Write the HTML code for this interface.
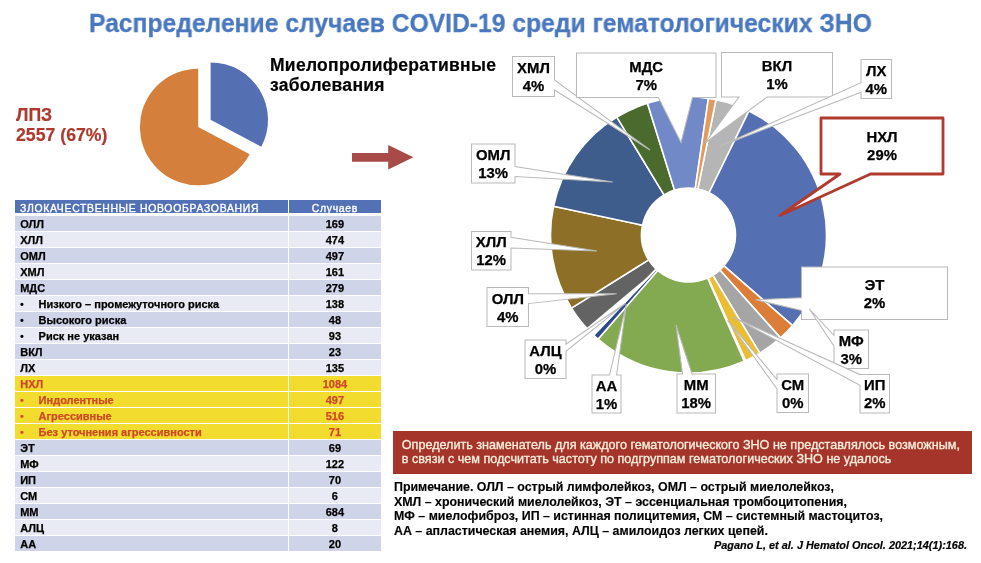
<!DOCTYPE html>
<html><head><meta charset="utf-8"><style>
*{margin:0;padding:0;box-sizing:border-box}
html,body{width:981px;height:563px;overflow:hidden;background:#fff}
body>*{will-change:transform}
body{position:relative;font-family:"Liberation Sans","Noto Sans CJK SC",sans-serif}
.abs{position:absolute;white-space:nowrap}
.title{left:89px;top:7px;font-size:25.5px;font-weight:bold;color:#4A78BE;line-height:32px;transform:scaleX(0.967);transform-origin:0 0;-webkit-text-stroke:0.3px #4A78BE}
.lpz{left:15.5px;top:104.6px;font-size:17.7px;font-weight:bold;color:#AD3A2D;line-height:20.2px;-webkit-text-stroke:0.2px #AD3A2D}
.mpz{left:269.5px;top:55px;font-size:17.5px;font-weight:bold;color:#000;line-height:20.1px;letter-spacing:0.28px;-webkit-text-stroke:0.2px #000}
svg{position:absolute;left:0;top:0}
.cl{font-family:"Liberation Sans",sans-serif;font-size:14.9px;font-weight:bold;fill:#000;stroke:#000;stroke-width:0.25px}
.th{position:absolute;background:#5371B5;color:#fff;overflow:hidden}
.td{position:absolute}
.htxt{position:absolute;top:2.8px;font-size:10.4px;line-height:12px;letter-spacing:0.72px;white-space:nowrap;-webkit-text-stroke:0.35px #fff}
.tx{position:absolute;top:1.5px;font-size:11px;font-weight:bold;line-height:13px;white-space:nowrap;-webkit-text-stroke:0.25px currentColor}
.bul{position:absolute;left:5px;top:1.5px;font-size:11px;font-weight:bold;line-height:13px}
.banner{left:393px;top:430.8px;width:579px;height:42.8px;background:#A5352A;color:#F6EEDC;font-size:12.6px;line-height:13.8px;padding:8.4px 0 0 8.8px;-webkit-text-stroke:0.35px #F6EEDC}
.notes{left:394.2px;top:479.5px;font-size:12.4px;font-weight:bold;line-height:14.6px;color:#000;-webkit-text-stroke:0.15px #000}
.cite{left:713.9px;top:539px;font-size:10.9px;font-weight:bold;font-style:italic;color:#000;line-height:12px;-webkit-text-stroke:0.2px #000}
</style></head><body>
<div class="abs title">Распределение случаев COVID-19 среди гематологических ЗНО</div>
<div class="abs lpz">ЛПЗ<br>2557 (67%)</div>
<div class="abs mpz">Миелопролиферативные<br>заболевания</div>
<svg width="981" height="563" viewBox="0 0 981 563">
<path d="M716.01,99.77 A138.0,138.0 0 0 1 749.00,110.97 L709.10,192.76 A47.0,47.0 0 0 0 697.87,188.94 Z" fill="#B5B5B5" stroke="#fff" stroke-width="1.6" stroke-linejoin="round"/>
<path d="M749.00,110.97 A138.0,138.0 0 0 1 792.65,325.54 L723.97,265.83 A47.0,47.0 0 0 0 709.10,192.76 Z" fill="#5470B3" stroke="#fff" stroke-width="1.6" stroke-linejoin="round"/>
<path d="M792.65,325.54 A138.0,138.0 0 0 1 780.48,337.88 L719.83,270.04 A47.0,47.0 0 0 0 723.97,265.83 Z" fill="#DC7E38" stroke="#fff" stroke-width="1.6" stroke-linejoin="round"/>
<path d="M780.48,337.88 A138.0,138.0 0 0 1 759.78,353.16 L712.78,275.24 A47.0,47.0 0 0 0 719.83,270.04 Z" fill="#A5A5A5" stroke="#fff" stroke-width="1.6" stroke-linejoin="round"/>
<path d="M759.78,353.16 A138.0,138.0 0 0 1 745.51,360.67 L707.92,277.80 A47.0,47.0 0 0 0 712.78,275.24 Z" fill="#EBBD35" stroke="#fff" stroke-width="1.6" stroke-linejoin="round"/>
<path d="M745.51,360.67 A138.0,138.0 0 0 1 744.19,361.26 L707.47,278.00 A47.0,47.0 0 0 0 707.92,277.80 Z" fill="#5B9BD5" stroke="#fff" stroke-width="1.6" stroke-linejoin="round"/>
<path d="M744.19,361.26 A138.0,138.0 0 0 1 597.96,339.15 L657.67,270.47 A47.0,47.0 0 0 0 707.47,278.00 Z" fill="#83AA50" stroke="#fff" stroke-width="1.6" stroke-linejoin="round"/>
<path d="M597.96,339.15 A138.0,138.0 0 0 1 593.51,335.10 L656.15,269.09 A47.0,47.0 0 0 0 657.67,270.47 Z" fill="#2E4A8A" stroke="#fff" stroke-width="1.6" stroke-linejoin="round"/>
<path d="M593.68,335.27 A138.0,138.0 0 0 1 593.16,334.77 L656.03,268.98 A47.0,47.0 0 0 0 656.21,269.15 Z" fill="#FFFFFF" stroke="#fff" stroke-width="1.6" stroke-linejoin="round"/>
<path d="M593.16,334.77 A138.0,138.0 0 0 1 571.47,308.13 L648.64,259.91 A47.0,47.0 0 0 0 656.03,268.98 Z" fill="#636363" stroke="#fff" stroke-width="1.6" stroke-linejoin="round"/>
<path d="M571.47,308.13 A138.0,138.0 0 0 1 553.52,206.31 L642.53,225.23 A47.0,47.0 0 0 0 648.64,259.91 Z" fill="#8D6F27" stroke="#fff" stroke-width="1.6" stroke-linejoin="round"/>
<path d="M553.52,206.31 A138.0,138.0 0 0 1 616.81,117.08 L664.08,194.84 A47.0,47.0 0 0 0 642.53,225.23 Z" fill="#3E5C8C" stroke="#fff" stroke-width="1.6" stroke-linejoin="round"/>
<path d="M616.81,117.08 A138.0,138.0 0 0 1 647.46,103.24 L674.52,190.13 A47.0,47.0 0 0 0 664.08,194.84 Z" fill="#4B6A2D" stroke="#fff" stroke-width="1.6" stroke-linejoin="round"/>
<path d="M647.46,103.24 A138.0,138.0 0 0 1 708.42,98.45 L695.28,188.49 A47.0,47.0 0 0 0 674.52,190.13 Z" fill="#7289C8" stroke="#fff" stroke-width="1.6" stroke-linejoin="round"/>
<path d="M708.42,98.45 A138.0,138.0 0 0 1 716.01,99.77 L697.87,188.94 A47.0,47.0 0 0 0 695.28,188.49 Z" fill="#E29A5E" stroke="#fff" stroke-width="1.6" stroke-linejoin="round"/>
<path d="M591.44,337.28 L584.38,330.08 L650,275 Z" fill="#fff"/>
<path d="M512.5,56.5 L554.5,56.5 L554.5,80.0 L650.0,150.0 L554.5,90.0 L554.5,96.5 L512.5,96.5 Z" fill="#fff" stroke="#BABABA" stroke-width="1.05"/>
<text x="533.5" y="73.0" text-anchor="middle" class="cl">ХМЛ</text>
<text x="533.5" y="91.0" text-anchor="middle" class="cl">4%</text>
<path d="M576.5,53.0 L716.0,53.0 L716.0,97.5 L692.5,97.5 L681.0,142.5 L658.4,97.5 L576.5,97.5 Z" fill="#fff" stroke="#BABABA" stroke-width="1.05"/>
<text x="646.2" y="71.8" text-anchor="middle" class="cl">МДС</text>
<text x="646.2" y="89.8" text-anchor="middle" class="cl">7%</text>
<path d="M721.5,52.5 L832.5,52.5 L832.5,97.0 L767.0,97.0 L705.0,143.0 L739.0,97.0 L721.5,97.0 Z" fill="#fff" stroke="#BABABA" stroke-width="1.05"/>
<text x="777.0" y="71.2" text-anchor="middle" class="cl">ВКЛ</text>
<text x="777.0" y="89.2" text-anchor="middle" class="cl">1%</text>
<path d="M861.0,59.5 L891.5,59.5 L891.5,98.5 L861.0,98.5 L861.0,92.3 L718.0,147.0 L861.0,82.7 Z" fill="#fff" stroke="#BABABA" stroke-width="1.05"/>
<text x="876.2" y="75.5" text-anchor="middle" class="cl">ЛХ</text>
<text x="876.2" y="93.5" text-anchor="middle" class="cl">4%</text>
<path d="M801.5,267.0 L947.5,267.0 L947.5,319.5 L801.5,319.5 L801.5,310.5 L755.6,299.8 L801.5,297.7 Z" fill="#fff" stroke="#BABABA" stroke-width="1.05"/>
<text x="874.5" y="289.8" text-anchor="middle" class="cl">ЭТ</text>
<text x="874.5" y="307.8" text-anchor="middle" class="cl">2%</text>
<path d="M834.0,330.0 L868.5,330.0 L868.5,368.5 L834.0,368.5 L834.0,346.2 L809.2,308.8 L834.0,335.5 Z" fill="#fff" stroke="#BABABA" stroke-width="1.05"/>
<text x="851.2" y="345.8" text-anchor="middle" class="cl">МФ</text>
<text x="851.2" y="363.8" text-anchor="middle" class="cl">3%</text>
<path d="M860.0,374.5 L889.5,374.5 L889.5,413.0 L860.0,413.0 L860.0,385.2 L732.8,317.0 L860.0,374.6 Z" fill="#fff" stroke="#BABABA" stroke-width="1.05"/>
<text x="874.8" y="390.2" text-anchor="middle" class="cl">ИП</text>
<text x="874.8" y="408.2" text-anchor="middle" class="cl">2%</text>
<path d="M777.0,374.0 L808.5,374.0 L808.5,412.5 L777.0,412.5 L777.0,389.0 L727.5,320.2 L777.0,379.6 Z" fill="#fff" stroke="#BABABA" stroke-width="1.05"/>
<text x="792.8" y="389.8" text-anchor="middle" class="cl">СМ</text>
<text x="792.8" y="407.8" text-anchor="middle" class="cl">0%</text>
<path d="M677.0,374.0 L682.5,374.0 L676.0,325.0 L692.0,374.0 L715.5,374.0 L715.5,413.0 L677.0,413.0 Z" fill="#fff" stroke="#BABABA" stroke-width="1.05"/>
<text x="696.2" y="390.0" text-anchor="middle" class="cl">ММ</text>
<text x="696.2" y="408.0" text-anchor="middle" class="cl">18%</text>
<path d="M592.0,375.0 L609.5,375.0 L626.4,304.2 L616.6,375.0 L621.0,375.0 L621.0,413.0 L592.0,413.0 Z" fill="#fff" stroke="#BABABA" stroke-width="1.05"/>
<text x="606.5" y="390.5" text-anchor="middle" class="cl">АА</text>
<text x="606.5" y="408.5" text-anchor="middle" class="cl">1%</text>
<path d="M525.0,340.0 L566.0,340.0 L566.0,344.2 L625.5,303.3 L566.0,351.3 L566.0,378.5 L525.0,378.5 Z" fill="#fff" stroke="#BABABA" stroke-width="1.05"/>
<text x="545.5" y="355.8" text-anchor="middle" class="cl">АЛЦ</text>
<text x="545.5" y="373.8" text-anchor="middle" class="cl">0%</text>
<path d="M487.0,287.5 L528.5,287.5 L528.5,293.7 L616.8,293.7 L528.5,303.6 L528.5,326.5 L487.0,326.5 Z" fill="#fff" stroke="#BABABA" stroke-width="1.05"/>
<text x="507.8" y="303.5" text-anchor="middle" class="cl">ОЛЛ</text>
<text x="507.8" y="321.5" text-anchor="middle" class="cl">4%</text>
<path d="M471.5,231.5 L511.0,231.5 L511.0,237.3 L597.0,251.1 L511.0,248.1 L511.0,270.0 L471.5,270.0 Z" fill="#fff" stroke="#BABABA" stroke-width="1.05"/>
<text x="491.2" y="247.2" text-anchor="middle" class="cl">ХЛЛ</text>
<text x="491.2" y="265.2" text-anchor="middle" class="cl">12%</text>
<path d="M471.5,144.0 L515.0,144.0 L515.0,166.6 L612.7,181.9 L515.0,176.6 L515.0,183.0 L471.5,183.0 Z" fill="#fff" stroke="#BABABA" stroke-width="1.05"/>
<text x="493.2" y="160.0" text-anchor="middle" class="cl">ОМЛ</text>
<text x="493.2" y="178.0" text-anchor="middle" class="cl">13%</text>
<path d="M821.0,118.0 L943.0,118.0 L943.0,174.0 L870.5,174.0 L780,215.5 L840,174.0 L821.0,174.0 Z" fill="#fff" stroke="#B03A2E" stroke-width="2.8" stroke-linejoin="round"/>
<text x="882" y="142.4" text-anchor="middle" class="cl">НХЛ</text>
<text x="882" y="160.3" text-anchor="middle" class="cl">29%</text>
<path d="M198.20,127.00 L249.68,154.37 A58.3,58.3 0 1 1 198.20,68.70 Z" fill="#D4803C"/>
<path d="M210.60,119.80 L210.60,62.40 A57.4,57.4 0 0 1 261.28,146.75 Z" fill="#5470B3"/>
<path d="M352,153 L388.2,153 L388.2,145.1 L413.4,157.3 L388.2,169.6 L388.2,161.8 L352,161.8 Z" fill="#A84A47"/>
</svg>
<div class="th" style="left:15.3px;top:199.6px;width:272.7px;height:13.2px"><span class="htxt" style="left:5px">ЗЛОКАЧЕСТВЕННЫЕ НОВООБРАЗОВАНИЯ</span></div>
<div class="th" style="left:289.2px;top:199.6px;width:91.8px;height:13.2px"><span class="htxt" style="left:0;right:0;text-align:center">Случаев</span></div>
<div class="td" style="left:15.3px;top:216.3px;width:272.7px;height:14.7px;background:#CFD4E9;color:#000"><span class="tx" style="left:5.2px">ОЛЛ</span></div>
<div class="td" style="left:289.2px;top:216.3px;width:91.8px;height:14.7px;background:#CFD4E9;color:#000"><span class="tx" style="left:0;right:0;text-align:center">169</span></div>
<div class="td" style="left:15.3px;top:232.29px;width:272.7px;height:14.7px;background:#E8EAF4;color:#000"><span class="tx" style="left:5.2px">ХЛЛ</span></div>
<div class="td" style="left:289.2px;top:232.29px;width:91.8px;height:14.7px;background:#E8EAF4;color:#000"><span class="tx" style="left:0;right:0;text-align:center">474</span></div>
<div class="td" style="left:15.3px;top:248.27px;width:272.7px;height:14.7px;background:#CFD4E9;color:#000"><span class="tx" style="left:5.2px">ОМЛ</span></div>
<div class="td" style="left:289.2px;top:248.27px;width:91.8px;height:14.7px;background:#CFD4E9;color:#000"><span class="tx" style="left:0;right:0;text-align:center">497</span></div>
<div class="td" style="left:15.3px;top:264.25px;width:272.7px;height:14.7px;background:#E8EAF4;color:#000"><span class="tx" style="left:5.2px">ХМЛ</span></div>
<div class="td" style="left:289.2px;top:264.25px;width:91.8px;height:14.7px;background:#E8EAF4;color:#000"><span class="tx" style="left:0;right:0;text-align:center">161</span></div>
<div class="td" style="left:15.3px;top:280.24px;width:272.7px;height:14.7px;background:#CFD4E9;color:#000"><span class="tx" style="left:5.2px">МДС</span></div>
<div class="td" style="left:289.2px;top:280.24px;width:91.8px;height:14.7px;background:#CFD4E9;color:#000"><span class="tx" style="left:0;right:0;text-align:center">279</span></div>
<div class="td" style="left:15.3px;top:296.23px;width:272.7px;height:14.7px;background:#E8EAF4;color:#000"><span class="bul">•</span><span class="tx" style="left:23.6px">Низкого – промежуточного риска</span></div>
<div class="td" style="left:289.2px;top:296.23px;width:91.8px;height:14.7px;background:#E8EAF4;color:#000"><span class="tx" style="left:0;right:0;text-align:center">138</span></div>
<div class="td" style="left:15.3px;top:312.21px;width:272.7px;height:14.7px;background:#CFD4E9;color:#000"><span class="bul">•</span><span class="tx" style="left:23.6px">Высокого риска</span></div>
<div class="td" style="left:289.2px;top:312.21px;width:91.8px;height:14.7px;background:#CFD4E9;color:#000"><span class="tx" style="left:0;right:0;text-align:center">48</span></div>
<div class="td" style="left:15.3px;top:328.19px;width:272.7px;height:14.7px;background:#E8EAF4;color:#000"><span class="bul">•</span><span class="tx" style="left:23.6px">Риск не указан</span></div>
<div class="td" style="left:289.2px;top:328.19px;width:91.8px;height:14.7px;background:#E8EAF4;color:#000"><span class="tx" style="left:0;right:0;text-align:center">93</span></div>
<div class="td" style="left:15.3px;top:344.18px;width:272.7px;height:14.7px;background:#CFD4E9;color:#000"><span class="tx" style="left:5.2px">ВКЛ</span></div>
<div class="td" style="left:289.2px;top:344.18px;width:91.8px;height:14.7px;background:#CFD4E9;color:#000"><span class="tx" style="left:0;right:0;text-align:center">23</span></div>
<div class="td" style="left:15.3px;top:360.17px;width:272.7px;height:14.7px;background:#E8EAF4;color:#000"><span class="tx" style="left:5.2px">ЛХ</span></div>
<div class="td" style="left:289.2px;top:360.17px;width:91.8px;height:14.7px;background:#E8EAF4;color:#000"><span class="tx" style="left:0;right:0;text-align:center">135</span></div>
<div class="td" style="left:15.3px;top:376.15px;width:272.7px;height:14.7px;background:#F2DC2D;color:#CE482B"><span class="tx" style="left:5.2px">НХЛ</span></div>
<div class="td" style="left:289.2px;top:376.15px;width:91.8px;height:14.7px;background:#F2DC2D;color:#CE482B"><span class="tx" style="left:0;right:0;text-align:center">1084</span></div>
<div class="td" style="left:15.3px;top:392.13px;width:272.7px;height:14.7px;background:#F2DC2D;color:#CE482B"><span class="bul">•</span><span class="tx" style="left:23.6px">Индолентные</span></div>
<div class="td" style="left:289.2px;top:392.13px;width:91.8px;height:14.7px;background:#F2DC2D;color:#CE482B"><span class="tx" style="left:0;right:0;text-align:center">497</span></div>
<div class="td" style="left:15.3px;top:408.12px;width:272.7px;height:14.7px;background:#F2DC2D;color:#CE482B"><span class="bul">•</span><span class="tx" style="left:23.6px">Агрессивные</span></div>
<div class="td" style="left:289.2px;top:408.12px;width:91.8px;height:14.7px;background:#F2DC2D;color:#CE482B"><span class="tx" style="left:0;right:0;text-align:center">516</span></div>
<div class="td" style="left:15.3px;top:424.11px;width:272.7px;height:14.7px;background:#F2DC2D;color:#CE482B"><span class="bul">•</span><span class="tx" style="left:23.6px">Без уточнения агрессивности</span></div>
<div class="td" style="left:289.2px;top:424.11px;width:91.8px;height:14.7px;background:#F2DC2D;color:#CE482B"><span class="tx" style="left:0;right:0;text-align:center">71</span></div>
<div class="td" style="left:15.3px;top:440.09px;width:272.7px;height:14.7px;background:#CFD4E9;color:#000"><span class="tx" style="left:5.2px">ЭТ</span></div>
<div class="td" style="left:289.2px;top:440.09px;width:91.8px;height:14.7px;background:#CFD4E9;color:#000"><span class="tx" style="left:0;right:0;text-align:center">69</span></div>
<div class="td" style="left:15.3px;top:456.07px;width:272.7px;height:14.7px;background:#E8EAF4;color:#000"><span class="tx" style="left:5.2px">МФ</span></div>
<div class="td" style="left:289.2px;top:456.07px;width:91.8px;height:14.7px;background:#E8EAF4;color:#000"><span class="tx" style="left:0;right:0;text-align:center">122</span></div>
<div class="td" style="left:15.3px;top:472.06px;width:272.7px;height:14.7px;background:#CFD4E9;color:#000"><span class="tx" style="left:5.2px">ИП</span></div>
<div class="td" style="left:289.2px;top:472.06px;width:91.8px;height:14.7px;background:#CFD4E9;color:#000"><span class="tx" style="left:0;right:0;text-align:center">70</span></div>
<div class="td" style="left:15.3px;top:488.05px;width:272.7px;height:14.7px;background:#E8EAF4;color:#000"><span class="tx" style="left:5.2px">СМ</span></div>
<div class="td" style="left:289.2px;top:488.05px;width:91.8px;height:14.7px;background:#E8EAF4;color:#000"><span class="tx" style="left:0;right:0;text-align:center">6</span></div>
<div class="td" style="left:15.3px;top:504.03px;width:272.7px;height:14.7px;background:#CFD4E9;color:#000"><span class="tx" style="left:5.2px">ММ</span></div>
<div class="td" style="left:289.2px;top:504.03px;width:91.8px;height:14.7px;background:#CFD4E9;color:#000"><span class="tx" style="left:0;right:0;text-align:center">684</span></div>
<div class="td" style="left:15.3px;top:520.01px;width:272.7px;height:14.7px;background:#E8EAF4;color:#000"><span class="tx" style="left:5.2px">АЛЦ</span></div>
<div class="td" style="left:289.2px;top:520.01px;width:91.8px;height:14.7px;background:#E8EAF4;color:#000"><span class="tx" style="left:0;right:0;text-align:center">8</span></div>
<div class="td" style="left:15.3px;top:536.0px;width:272.7px;height:14.7px;background:#CFD4E9;color:#000"><span class="tx" style="left:5.2px">АА</span></div>
<div class="td" style="left:289.2px;top:536.0px;width:91.8px;height:14.7px;background:#CFD4E9;color:#000"><span class="tx" style="left:0;right:0;text-align:center">20</span></div>
<div class="abs banner">Определить знаменатель для каждого гематологического ЗНО не представлялось возможным,<br>в связи с чем подсчитать частоту по подгруппам гематологических ЗНО не удалось</div>
<div class="abs notes">Примечание. ОЛЛ – острый лимфолейкоз, ОМЛ – острый миелолейкоз,<br>ХМЛ – хронический миелолейкоз, ЭТ – эссенциальная тромбоцитопения,<br>МФ – миелофиброз, ИП – истинная полицитемия, СМ – системный мастоцитоз,<br>АА – апластическая анемия, АЛЦ – амилоидоз легких цепей.</div>
<div class="abs cite">Pagano L, et al. J Hematol Oncol. 2021;14(1):168.</div>
</body></html>
